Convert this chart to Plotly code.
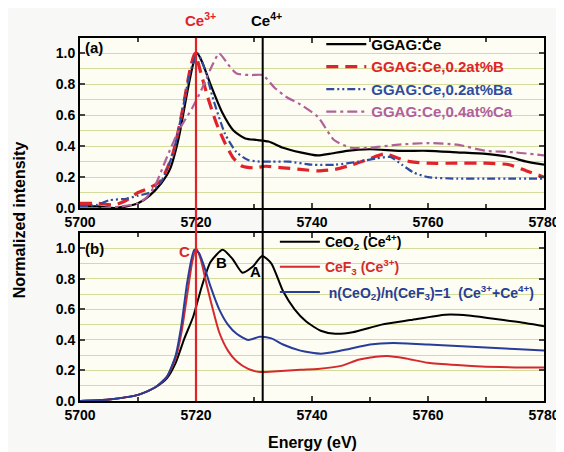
import plotly.graph_objects as go

# ---------------- data: panel (a) ----------------
a_ce_E = [5700, 5703, 5706, 5708, 5710, 5712, 5714, 5715.5, 5717, 5718.5, 5719.5, 5720.2, 5721, 5722.5, 5724.5,
          5726.5, 5728.5, 5730.5, 5732.5, 5735, 5738, 5741, 5743, 5746, 5750, 5755, 5760, 5765, 5770, 5774, 5777, 5780]
a_ce_V = [0.01, 0.01, 0.0, 0.01, 0.03, 0.08, 0.16, 0.25, 0.45, 0.75, 0.93, 1.0, 0.95, 0.8, 0.62,
          0.5, 0.45, 0.44, 0.43, 0.39, 0.36, 0.34, 0.35, 0.37, 0.38, 0.37, 0.37, 0.36, 0.35, 0.33, 0.30, 0.28]

a_b_E = [5700, 5703, 5706, 5708, 5710, 5712, 5714, 5716, 5717.5, 5719, 5719.8, 5720.8, 5722, 5723.5, 5725, 5726.5,
         5728, 5730, 5732, 5735, 5738, 5741, 5744, 5747, 5750, 5752.5, 5755, 5757, 5760, 5765, 5770, 5774, 5777, 5780]
a_b_V = [0.03, 0.03, 0.02, 0.05, 0.10, 0.13, 0.18, 0.35, 0.6, 0.9, 1.0, 0.88, 0.72, 0.55, 0.42, 0.32,
         0.27, 0.26, 0.27, 0.26, 0.25, 0.24, 0.25, 0.28, 0.32, 0.35, 0.32, 0.30, 0.29, 0.29, 0.29, 0.28, 0.24, 0.20]

a_ba_E = [5700, 5703, 5705, 5708, 5710, 5712, 5714, 5716, 5717.5, 5719, 5720.3, 5721.5, 5723, 5725, 5727, 5729,
          5731, 5733, 5736, 5740, 5744, 5748, 5751, 5753.5, 5755.5, 5757.5, 5760, 5765, 5770, 5775, 5780]
a_ba_V = [0.01, 0.02, 0.05, 0.06, 0.08, 0.10, 0.17, 0.35, 0.6, 0.88, 1.0, 0.9, 0.7, 0.48, 0.36, 0.31,
          0.30, 0.30, 0.30, 0.28, 0.28, 0.30, 0.32, 0.33, 0.28, 0.23, 0.20, 0.19, 0.19, 0.19, 0.19]

a_ca_E = [5700, 5704, 5707, 5710, 5711.5, 5713, 5715, 5717, 5719.4, 5721, 5722.5, 5724, 5725.5, 5727, 5729.5,
          5731.5, 5733.5, 5735.5, 5738, 5741, 5743.8, 5746.7, 5750, 5755, 5760, 5765, 5770, 5775, 5780]
a_ca_V = [0.0, 0.0, 0.01, 0.03, 0.07, 0.15, 0.33, 0.5, 0.65, 0.77, 0.9, 1.0, 0.93, 0.87, 0.86,
          0.86, 0.78, 0.72, 0.67, 0.59, 0.44, 0.39, 0.39, 0.41, 0.42, 0.41, 0.37, 0.36, 0.34]

# ---------------- data: panel (b) ----------------
b_ceo2_E = [5700, 5705, 5710, 5713, 5715, 5716.5, 5718, 5719.5, 5721, 5722.5, 5724.6, 5726.3, 5728, 5729.8, 5731.4,
            5733, 5735, 5737, 5739, 5741.5, 5744, 5747, 5752, 5757, 5763, 5767, 5771, 5775, 5780]
b_ceo2_V = [0.0, 0.01, 0.04, 0.09, 0.15, 0.25, 0.41, 0.55, 0.75, 0.91, 0.99, 0.93, 0.84, 0.88, 0.95,
            0.9, 0.72, 0.6, 0.52, 0.46, 0.44, 0.45, 0.5, 0.53, 0.565, 0.56, 0.54, 0.52, 0.49]

b_cef3_E = [5700, 5705, 5710, 5713, 5715, 5716.5, 5717.5, 5718.5, 5719.3, 5720, 5720.8, 5721.6, 5722.5, 5724, 5725.5,
            5727, 5729, 5731, 5734, 5738, 5741, 5745, 5748, 5751, 5753, 5756, 5760, 5765, 5770, 5775, 5780]
b_cef3_V = [0.0, 0.01, 0.04, 0.09, 0.16, 0.28, 0.45, 0.7, 0.9, 1.0, 0.93, 0.8, 0.66, 0.45, 0.33,
            0.26, 0.21, 0.19, 0.195, 0.205, 0.21, 0.23, 0.27, 0.29, 0.295, 0.28, 0.25, 0.235, 0.225, 0.22, 0.22]

b_mix_E = [5700, 5705, 5710, 5713, 5715, 5716.5, 5717.5, 5718.5, 5719.7, 5720.5, 5721.5, 5722.5, 5724, 5725.5, 5727,
           5729, 5731, 5733, 5735, 5738, 5741.5, 5745, 5750, 5754, 5760, 5765, 5770, 5775, 5780]
b_mix_V = [0.0, 0.01, 0.04, 0.09, 0.16, 0.3, 0.5, 0.78, 0.99, 0.97, 0.87, 0.75, 0.6, 0.5, 0.44,
           0.4, 0.42, 0.41, 0.37, 0.33, 0.31, 0.33, 0.37, 0.38, 0.37, 0.36, 0.35, 0.34, 0.33]

x_ticks = [5700, 5720, 5740, 5760, 5780]
ce3_E = 5720
ce4_E = 5731.5

RED = "#e0232b"
BLUE = "#2f4c9e"
PINK = "#b0609a"
BRED = "#d42a2e"
BBLUE = "#283c9a"

fig = go.Figure()

def add(x, y, name, color, dash, width, xa, ya, leg, grp):
    fig.add_trace(go.Scatter(x=x, y=y, mode="lines", name=name, legendgroup=grp,
                             line=dict(color=color, dash=dash, width=width, shape="spline", smoothing=0.6),
                             xaxis=xa, yaxis=ya, legend=leg))

add(a_ce_E, a_ce_V, "GGAG:Ce", "black", "solid", 2.2, "x", "y", "legend", "a1")
add(a_b_E, a_b_V, f"<span style='color:{RED}'>GGAG:Ce,0.2at%B</span>", RED, "12px,7px", 3.2, "x", "y", "legend", "a2")
add(a_ba_E, a_ba_V, f"<span style='color:{BLUE}'>GGAG:Ce,0.2at%Ba</span>", BLUE, "8px,3px,2px,3px,2px,3px", 2.2, "x", "y", "legend", "a3")
add(a_ca_E, a_ca_V, f"<span style='color:{PINK}'>GGAG:Ce,0.4at%Ca</span>", PINK, "10px,4px,3px,4px", 2.2, "x", "y", "legend", "a4")

add(b_ceo2_E, b_ceo2_V, "CeO<sub>2</sub> (Ce<sup>4+</sup>)", "black", "solid", 2, "x2", "y2", "legend2", "b1")
add(b_cef3_E, b_cef3_V, f"<span style='color:{BRED}'>CeF<sub>3</sub> (Ce<sup>3+</sup>)</span>", BRED, "solid", 2, "x2", "y2", "legend2", "b2")
add(b_mix_E, b_mix_V, f"<span style='color:{BBLUE}'> n(CeO<sub>2</sub>)/n(CeF<sub>3</sub>)=1  (Ce<sup>3+</sup>+Ce<sup>4+</sup>)</span>",
    BBLUE, "solid", 2, "x2", "y2", "legend2", "b3")

tickfont = dict(family="Liberation Sans, Arial", size=14, color="black", weight="bold")
xcommon = dict(range=[5700, 5780], tickvals=x_ticks, ticks="inside", ticklen=5, tickwidth=1.5,
               showline=True, linecolor="black", linewidth=1.8, mirror="ticks", showgrid=False,
               zeroline=False, tickfont=tickfont,
               minor=dict(dtick=10, ticks="inside", ticklen=4, tickwidth=1.5, tick0=5700))
ycommon = dict(range=[0, 1.1], tickvals=[0, 0.2, 0.4, 0.6, 0.8, 1.0], tickformat=".1f",
               ticks="inside", ticklen=5, tickwidth=1.5, showline=True, linecolor="black", linewidth=1.8,
               mirror="ticks", showgrid=True, gridcolor="#d3dc9c", gridwidth=1, zeroline=False, tickfont=tickfont,
               minor=dict(dtick=0.1, tick0=0, showgrid=True, gridcolor="#d3dc9c", gridwidth=1, ticks=""))

fig.update_layout(
    width=564, height=452,
    margin=dict(l=72, r=17, t=30, b=59),
    paper_bgcolor="#f8f8f6", plot_bgcolor="#fdfdf3",
    font=dict(family="Liberation Sans, Arial", color="black"),
    xaxis=dict(domain=[0, 1], anchor="y", **xcommon),
    yaxis=dict(domain=[0.5317, 1], anchor="x", **ycommon),
    xaxis2=dict(domain=[0, 1], anchor="y2", **xcommon),
    yaxis2=dict(domain=[0, 0.4628], anchor="x2", **ycommon),
    legend=dict(x=0.52, y=1.028, xanchor="left", yanchor="top", bgcolor="rgba(0,0,0,0)",
                font=dict(size=15, weight="bold"), tracegroupgap=0, itemwidth=40),
    legend2=dict(x=0.42, y=0.482, xanchor="left", yanchor="top", bgcolor="rgba(0,0,0,0)",
                 font=dict(size=14, weight="bold"), tracegroupgap=4, itemwidth=40),
    showlegend=True,
)

fig.add_shape(type="line", xref="x", yref="paper", x0=ce3_E, x1=ce3_E, y0=0, y1=1,
              line=dict(color=RED, width=2.2))
fig.add_shape(type="line", xref="x", yref="paper", x0=ce4_E, x1=ce4_E, y0=0, y1=1,
              line=dict(color="black", width=2))

ann_font = dict(family="Liberation Sans, Arial", size=15, weight="bold")
fig.add_annotation(x=ce3_E, y=1.0, xref="x", yref="paper", yanchor="bottom", xanchor="center", yshift=7, xshift=4,
                   text="Ce<sup>3+</sup>", showarrow=False, font=dict(ann_font, color=RED))
fig.add_annotation(x=ce4_E, y=1.0, xref="x", yref="paper", yanchor="bottom", xanchor="center", yshift=7, xshift=4,
                   text="Ce<sup>4+</sup>", showarrow=False, font=dict(ann_font, color="black"))
fig.add_annotation(x=5700.6, y=1.04, xref="x", yref="y", text="(a)", showarrow=False, xanchor="left",
                   font=dict(ann_font, color="black"))
fig.add_annotation(x=5700.6, y=1.0, xref="x2", yref="y2", text="(b)", showarrow=False, xanchor="left",
                   font=dict(ann_font, color="black"))
fig.add_annotation(x=5718, y=0.98, xref="x2", yref="y2", text="C", showarrow=False,
                   font=dict(ann_font, color=BRED))
fig.add_annotation(x=5724.4, y=0.91, xref="x2", yref="y2", text="B", showarrow=False,
                   font=dict(ann_font, color="black"))
fig.add_annotation(x=5730.2, y=0.85, xref="x2", yref="y2", text="A", showarrow=False,
                   font=dict(ann_font, color="black"))
fig.add_annotation(x=-0.13, y=0.5, xref="paper", yref="paper", text="Normalized intensity", textangle=-90,
                   xanchor="center", yanchor="middle",
                   showarrow=False, font=dict(family="Liberation Sans, Arial", size=16, weight="bold", color="black"))
fig.add_annotation(x=0.5, y=-0.113, xref="paper", yref="paper", text="Energy (eV)", xanchor="center", yanchor="middle",
                   showarrow=False, font=dict(family="Liberation Sans, Arial", size=16, weight="bold", color="black"))

fig.write_html("out.html")
